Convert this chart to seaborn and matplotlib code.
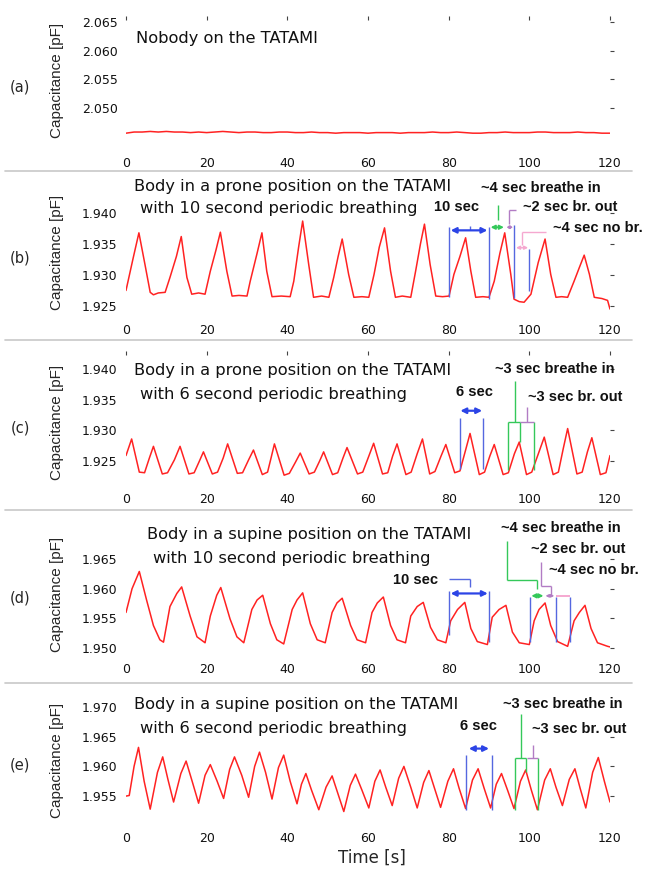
import numpy as np
import matplotlib
matplotlib.use("Agg")
import matplotlib.pyplot as plt
import seaborn as sns
from matplotlib.lines import Line2D

# ---- data (time in s, capacitance in pF) ----
a_time = np.arange(0, 121, 2)
a_cap = [2.0457, 2.0459, 2.0459, 2.0460, 2.0459, 2.0460, 2.0459, 2.0459, 2.0458, 2.0459,
         2.0458, 2.0459, 2.0460, 2.0459, 2.0458, 2.0459, 2.0459, 2.0458, 2.0458, 2.0459,
         2.0459, 2.0458, 2.0458, 2.0459, 2.0458, 2.0458, 2.0457, 2.0458, 2.0458, 2.0458,
         2.0457, 2.0458, 2.0458, 2.0458, 2.0457, 2.0458, 2.0458, 2.0458, 2.0459, 2.0458,
         2.0458, 2.0459, 2.0458, 2.0457, 2.0457, 2.0458, 2.0458, 2.0459, 2.0458, 2.0458,
         2.0458, 2.0459, 2.0459, 2.0458, 2.0458, 2.0458, 2.0459, 2.0458, 2.0458, 2.0457, 2.0457]

b_time = [0.0, 1.8, 3.2, 4.7, 6.0, 6.8, 8.0, 9.7,
          10.9, 12.5, 13.7, 15.1, 16.3, 18.0, 19.6,
          20.9, 22.3, 23.4, 25.0, 26.3, 28.0, 30.0,
          30.8, 32.5, 33.7, 34.9, 36.2, 38.5, 40.7,
          41.6, 42.8, 43.8, 45.3, 46.5, 48.5, 50.3,
          51.5, 52.6, 53.6, 55.2, 56.5, 58.5, 60.2,
          61.5, 62.8, 64.1, 65.6, 66.8, 68.5, 70.6,
          71.8, 73.0, 74.0, 75.4, 76.8, 78.5, 80.1,
          81.3, 82.8, 84.2, 85.5, 86.7, 88.5, 90.0,
          91.3, 92.7, 93.9, 95.4, 96.2, 97.5, 98.7,
          100.4, 102.2, 103.9, 105.3, 106.6, 108.0, 109.5,
          111.1, 112.4, 113.6, 114.9, 116.1, 118.0, 119.4, 120.0]
b_cap = [1.9275, 1.9328, 1.9368, 1.9317, 1.9272, 1.9268, 1.9271, 1.9272,
         1.9296, 1.9330, 1.9362, 1.9296, 1.9269, 1.9271, 1.9269,
         1.9306, 1.9340, 1.9369, 1.9306, 1.9266, 1.9267, 1.9266,
         1.9290, 1.9335, 1.9368, 1.9306, 1.9265, 1.9266, 1.9265,
         1.9290, 1.9345, 1.9387, 1.9317, 1.9264, 1.9266, 1.9264,
         1.9296, 1.9330, 1.9358, 1.9301, 1.9264, 1.9265, 1.9264,
         1.9301, 1.9345, 1.9376, 1.9306, 1.9264, 1.9266, 1.9264,
         1.9306, 1.9350, 1.9382, 1.9317, 1.9266, 1.9265, 1.9266,
         1.9301, 1.9330, 1.9360, 1.9306, 1.9264, 1.9265, 1.9264,
         1.9290, 1.9335, 1.9368, 1.9301, 1.9261, 1.9257, 1.9256,
         1.9269, 1.9320, 1.9358, 1.9301, 1.9264, 1.9265, 1.9264,
         1.9290, 1.9312, 1.9332, 1.9301, 1.9264, 1.9262, 1.9259, 1.9245]

c_time = [0.0, 1.4, 3.3, 4.6, 5.8, 6.8,
          9.0, 10.3, 12.0, 13.4,
          15.6, 16.9, 18.2, 19.2,
          21.4, 22.7, 24.1, 25.2,
          27.6, 28.9, 30.4, 31.6,
          33.8, 35.1, 36.0, 36.8,
          39.2, 40.5, 42.0, 43.2,
          45.4, 46.7, 48.0, 49.0,
          51.2, 52.5, 53.8, 54.8,
          57.4, 58.7, 60.2, 61.4,
          63.6, 64.9, 66.1, 67.2,
          69.4, 70.7, 72.2, 73.5,
          75.3, 76.6, 78.1, 79.3,
          81.5, 82.8, 84.2, 85.3,
          87.6, 88.9, 90.2, 91.3,
          93.5, 94.8, 96.3, 97.5,
          99.3, 100.6, 102.4, 103.7,
          105.9, 107.2, 108.4, 109.5,
          111.8, 113.1, 114.4, 115.5,
          117.6, 119.0, 120.0]
c_cap = [1.9259, 1.9286, 1.9232, 1.9231, 1.9255, 1.9274,
         1.9229, 1.9231, 1.9252, 1.9274,
         1.9229, 1.9231, 1.9250, 1.9265,
         1.9229, 1.9232, 1.9255, 1.9278,
         1.9230, 1.9231, 1.9252, 1.9268,
         1.9228, 1.9232, 1.9256, 1.9278,
         1.9227, 1.9230, 1.9248, 1.9263,
         1.9229, 1.9232, 1.9250, 1.9265,
         1.9228, 1.9231, 1.9255, 1.9272,
         1.9229, 1.9232, 1.9258, 1.9279,
         1.9229, 1.9231, 1.9258, 1.9278,
         1.9228, 1.9232, 1.9262, 1.9286,
         1.9229, 1.9233, 1.9258, 1.9277,
         1.9231, 1.9234, 1.9268, 1.9295,
         1.9228, 1.9232, 1.9258, 1.9277,
         1.9228, 1.9231, 1.9262, 1.9281,
         1.9228, 1.9232, 1.9265, 1.9289,
         1.9228, 1.9232, 1.9270, 1.9303,
         1.9229, 1.9232, 1.9265, 1.9288,
         1.9228, 1.9231, 1.9259]

d_time = [0.0, 1.5, 3.3, 5.1, 6.8, 8.4, 9.3,
          10.9, 12.6, 13.8, 15.9, 17.6, 19.6,
          20.9, 22.5, 23.5, 25.8, 27.5, 29.2,
          31.2, 32.5, 33.9, 35.8, 37.4, 39.1,
          41.2, 42.4, 43.8, 45.7, 47.4, 49.4,
          51.1, 52.3, 53.6, 55.7, 57.3, 59.4,
          61.0, 62.3, 63.8, 65.6, 67.2, 69.3,
          70.6, 72.2, 73.7, 75.5, 77.2, 79.3,
          80.5, 82.2, 84.0, 85.5, 87.1, 89.6,
          90.8, 92.5, 94.2, 95.8, 97.5, 100.0,
          101.2, 102.4, 103.9, 105.3, 107.0, 109.5,
          111.1, 112.4, 113.8, 115.3, 116.9, 119.4, 120.0]
d_cap = [1.9560, 1.9600, 1.9629, 1.9581, 1.9538, 1.9514, 1.9510,
         1.9570, 1.9592, 1.9603, 1.9554, 1.9519, 1.9509,
         1.9554, 1.9589, 1.9602, 1.9549, 1.9519, 1.9509,
         1.9565, 1.9581, 1.9589, 1.9541, 1.9514, 1.9507,
         1.9565, 1.9581, 1.9593, 1.9541, 1.9514, 1.9509,
         1.9560, 1.9576, 1.9584, 1.9538, 1.9514, 1.9509,
         1.9560, 1.9576, 1.9586, 1.9538, 1.9514, 1.9509,
         1.9554, 1.9570, 1.9577, 1.9535, 1.9514, 1.9509,
         1.9546, 1.9565, 1.9577, 1.9533, 1.9511, 1.9506,
         1.9552, 1.9565, 1.9572, 1.9527, 1.9509, 1.9506,
         1.9546, 1.9565, 1.9576, 1.9538, 1.9511, 1.9503,
         1.9546, 1.9560, 1.9572, 1.9533, 1.9509, 1.9503, 1.9502]

e_time = [0.0, 0.8, 2.0, 3.1, 4.5, 6.0,
          7.8, 9.1, 10.4, 11.8,
          13.6, 14.9, 16.4, 18.0,
          19.6, 20.9, 22.6, 24.2,
          25.7, 26.9, 28.7, 30.4,
          31.9, 33.1, 34.6, 36.2,
          37.8, 39.1, 40.7, 42.4,
          43.5, 44.6, 46.0, 47.8,
          49.6, 51.1, 52.5, 54.0,
          55.6, 56.9, 58.5, 60.2,
          61.7, 63.0, 64.4, 66.0,
          67.6, 68.9, 70.6, 72.2,
          73.8, 75.1, 76.5, 78.0,
          79.8, 81.2, 82.6, 84.2,
          85.9, 87.3, 88.8, 90.4,
          91.8, 93.1, 94.6, 96.2,
          97.8, 99.1, 100.5, 102.0,
          103.8, 105.2, 106.6, 108.2,
          109.9, 111.3, 112.6, 114.0,
          115.7, 117.1, 118.6, 120.0]
e_cap = [1.9550, 1.9551, 1.9600, 1.9632, 1.9575, 1.9528,
         1.9590, 1.9616, 1.9578, 1.9540,
         1.9588, 1.9609, 1.9575, 1.9538,
         1.9585, 1.9603, 1.9575, 1.9546,
         1.9595, 1.9616, 1.9585, 1.9548,
         1.9600, 1.9624, 1.9590, 1.9545,
         1.9598, 1.9619, 1.9575, 1.9537,
         1.9570, 1.9588, 1.9560, 1.9527,
         1.9565, 1.9584, 1.9555, 1.9524,
         1.9568, 1.9587, 1.9560, 1.9530,
         1.9575, 1.9594, 1.9565, 1.9534,
         1.9580, 1.9600, 1.9565, 1.9530,
         1.9573, 1.9593, 1.9563, 1.9531,
         1.9575, 1.9596, 1.9563, 1.9529,
         1.9577, 1.9596, 1.9563, 1.9530,
         1.9570, 1.9588, 1.9560, 1.9529,
         1.9575, 1.9594, 1.9560, 1.9527,
         1.9577, 1.9596, 1.9565, 1.9534,
         1.9578, 1.9596, 1.9563, 1.9530,
         1.9590, 1.9615, 1.9575, 1.9540]

panel_tags = ["(a)", "(b)", "(c)", "(d)", "(e)"]
x_ticks = [0, 20, 40, 60, 80, 100, 120]
y_ticks = [[2.050, 2.055, 2.060, 2.065],
           [1.925, 1.930, 1.935, 1.940],
           [1.925, 1.930, 1.935, 1.940],
           [1.950, 1.955, 1.960, 1.965],
           [1.955, 1.960, 1.965, 1.970]]
y_limits = [(2.0440, 2.0653), (1.92435, 1.9450), (1.92208, 1.94228),
            (1.94985, 1.97123), (1.95131, 1.97236)]
titles = [["Nobody on the TATAMI"],
          ["Body in a prone position on the TATAMI", "with 10 second periodic breathing"],
          ["Body in a prone position on the TATAMI", "with 6 second periodic breathing"],
          ["Body in a supine position on the TATAMI", "with 10 second periodic breathing"],
          ["Body in a supine position on the TATAMI", "with 6 second periodic breathing"]]

# ---- layout (pixels) ----
W, H = 647, 877
AX_LEFT, AX_RIGHT = 126, 610
AX_TOPS = [20, 182, 355, 522, 693]
AX_BOTTOMS = [143, 310, 479, 649, 818]
TAG_Y = [87, 258, 428, 598, 765]
YLAB_Y = [80, 252, 422, 594, 760]
TITLE_POS = [[(136, 38)],
             [(134, 186), (140, 209)],
             [(134, 370), (140, 395)],
             [(147, 535), (153, 558)],
             [(134, 705), (140, 729)]]
TOP_TICKS = [True, False, True, False, False]
SEP_Y = [171, 340, 510, 683]

RED = "#ff2222"
BLUE = "#5567e0"
BLUE_A = "#2c44e6"
GREEN = "#34c85a"
PURPLE = "#b27cc4"
PINK = "#f5a8d0"

sns.set_style("white")
plt.rcParams["font.family"] = ["DejaVu Sans"]

fig = plt.figure(figsize=(W / 100, H / 100), dpi=100)


def fx(px):
    return px / W


def fy(py):
    return 1 - py / H


def vline(ax, x, y0, y1, color, lw=1.0):
    ax.plot([x, x], [y0, y1], color=color, lw=lw, solid_capstyle="butt", zorder=4)


def hline(ax, x0, x1, y, color, lw=1.0):
    ax.plot([x0, x1], [y, y], color=color, lw=lw, solid_capstyle="butt", zorder=4)


def darrow(ax, x0, x1, y, color, lw=1.6, ms=8):
    ax.annotate("", xy=(x1, y), xytext=(x0, y),
                arrowprops=dict(arrowstyle="<|-|>", color=color, lw=lw,
                                mutation_scale=ms, shrinkA=0, shrinkB=0), zorder=5)


def note(ax, x, y, s):
    ax.text(x, y, s, fontsize=10.5, fontweight="bold", family="Liberation Sans",
            ha="left", va="center", color="#111111", clip_on=False, zorder=6)


series = [(a_time, a_cap), (b_time, b_cap), (c_time, c_cap), (d_time, d_cap), (e_time, e_cap)]
axes = []
for i, (t, c) in enumerate(series):
    top, bottom = AX_TOPS[i], AX_BOTTOMS[i]
    ax = fig.add_axes([fx(AX_LEFT), fy(bottom), (AX_RIGHT - AX_LEFT) / W, (bottom - top) / H])
    sns.lineplot(x=np.asarray(t), y=np.asarray(c), ax=ax, color=RED, linewidth=1.1,
                 estimator=None, sort=False)
    ax.set_xlim(0, 120)
    ax.set_ylim(*y_limits[i])
    ax.set_xticks(x_ticks)
    ax.set_yticks(y_ticks[i])
    ax.set_yticklabels([f"{v:.3f}" for v in y_ticks[i]])
    for s in ax.spines.values():
        s.set_visible(False)
    ax.tick_params(axis="both", direction="out", length=3, width=0.8, color="#444444",
                   top=TOP_TICKS[i], right=True, labelsize=9, labelcolor="#111111")
    ax.tick_params(axis="y", pad=3)
    ax.tick_params(axis="x", pad=7)
    ax.set_xlabel("")
    ax.set_ylabel("")
    ax.patch.set_alpha(0)
    ax.set_zorder(4)
    axes.append(ax)

    fig.text(fx(20), fy(TAG_Y[i]), panel_tags[i], fontsize=10.5, ha="center", va="center")
    fig.text(fx(57), fy(YLAB_Y[i]), "Capacitance [pF]", rotation=90, fontsize=11,
             family="Liberation Sans", ha="center", va="center")
    for line, (px, py) in zip(titles[i], TITLE_POS[i]):
        fig.text(fx(px), fy(py), line, fontsize=11.7, ha="left", va="center", color="#111111",
                 zorder=3)

fig.text(fx(372), fy(858), "Time [s]", fontsize=12, ha="center", va="center")

for y in SEP_Y:
    fig.add_artist(Line2D([fx(5), fx(632)], [fy(y), fy(y)], color="#c8c8c8", lw=1.2))

# ---- annotations ----
ax = axes[1]
for x, y0, y1 in [(80.0, 1.9265, 1.9378), (90.0, 1.9262, 1.9378),
                  (96.2, 1.9263, 1.9381), (100.0, 1.9274, 1.9342)]:
    vline(ax, x, y0, y1, BLUE)
darrow(ax, 80.5, 89.6, 1.9372, BLUE_A)
vline(ax, 85.2, 1.9372, 1.9379, BLUE)
darrow(ax, 90.4, 93.7, 1.9377, GREEN, lw=1.3, ms=6)
vline(ax, 92.3, 1.9389, 1.9413, GREEN)
darrow(ax, 94.3, 96.0, 1.9377, PURPLE, lw=1.1, ms=4)
vline(ax, 95.0, 1.9383, 1.9405, PURPLE)
hline(ax, 95.0, 96.6, 1.9405, PURPLE)
darrow(ax, 96.7, 99.7, 1.9344, PINK, lw=1.1, ms=5)
vline(ax, 98.3, 1.9349, 1.9370, PINK)
hline(ax, 98.3, 104.1, 1.9370, PINK)
note(ax, 76.3, 1.9410, "10 sec")
note(ax, 88.0, 1.9440, "~4 sec breathe in")
note(ax, 98.4, 1.9410, "~2 sec br. out")
note(ax, 105.8, 1.9376, "~4 sec no br.")

ax = axes[2]
for x in (82.7, 88.5):
    vline(ax, x, 1.9237, 1.9320, BLUE)
darrow(ax, 82.9, 88.3, 1.9332, BLUE_A)
for x in (94.6, 101.1):
    vline(ax, x, 1.9236, 1.9314, GREEN)
vline(ax, 97.6, 1.9281, 1.9314, GREEN)
hline(ax, 94.6, 97.6, 1.9314, GREEN)
hline(ax, 97.8, 101.1, 1.9314, PURPLE)
vline(ax, 96.4, 1.9314, 1.9381, GREEN)
vline(ax, 99.4, 1.9314, 1.9338, PURPLE)
note(ax, 81.7, 1.9363, "6 sec")
note(ax, 91.4, 1.9400, "~3 sec breathe in")
note(ax, 99.6, 1.9354, "~3 sec br. out")

ax = axes[3]
vline(ax, 80.0, 1.9522, 1.9596, BLUE)
vline(ax, 90.0, 1.9510, 1.9596, BLUE)
for x in (100.1, 106.6, 110.0):
    vline(ax, x, 1.9510, 1.9586, BLUE)
darrow(ax, 80.5, 89.7, 1.9592, BLUE_A)
hline(ax, 80.0, 85.2, 1.9616, BLUE)
vline(ax, 85.2, 1.9603, 1.9616, BLUE)
darrow(ax, 100.5, 103.5, 1.9588, GREEN, lw=1.3, ms=6)
vline(ax, 94.4, 1.9614, 1.9680, GREEN)
hline(ax, 94.4, 102.0, 1.9614, GREEN)
vline(ax, 102.0, 1.9600, 1.9614, GREEN)
vline(ax, 102.8, 1.9605, 1.9645, PURPLE)
hline(ax, 102.8, 105.4, 1.9605, PURPLE)
vline(ax, 105.4, 1.9590, 1.9605, PURPLE)
darrow(ax, 104.0, 106.2, 1.9588, PURPLE, lw=1.1, ms=4)
hline(ax, 106.6, 110.0, 1.9588, PINK, lw=1.4)
note(ax, 66.1, 1.9615, "10 sec")
note(ax, 92.9, 1.9702, "~4 sec breathe in")
note(ax, 100.4, 1.9667, "~2 sec br. out")
note(ax, 104.8, 1.9631, "~4 sec no br.")

ax = axes[4]
for x in (84.2, 90.7):
    vline(ax, x, 1.9527, 1.9619, BLUE)
darrow(ax, 85.0, 90.0, 1.9630, BLUE_A)
for x in (96.4, 102.1):
    vline(ax, x, 1.9527, 1.9614, GREEN)
vline(ax, 99.1, 1.9591, 1.9614, GREEN)
hline(ax, 96.4, 99.1, 1.9614, GREEN)
hline(ax, 99.3, 102.1, 1.9614, PURPLE)
vline(ax, 97.9, 1.9614, 1.9688, GREEN)
vline(ax, 100.9, 1.9614, 1.9636, PURPLE)
note(ax, 82.7, 1.9668, "6 sec")
note(ax, 93.4, 1.9705, "~3 sec breathe in")
note(ax, 100.6, 1.9663, "~3 sec br. out")

fig.savefig("out.png", dpi=100)
